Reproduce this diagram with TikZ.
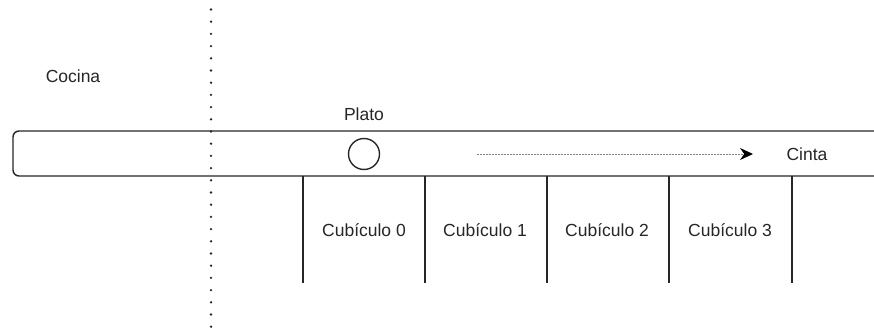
\documentclass[tikz,border=0pt]{standalone}
\usepackage{fontspec}
\setmainfont{Liberation Sans}
\usetikzlibrary{arrows.meta}
\begin{document}
\begin{tikzpicture}[x=1pt,y=-1pt,
  lbl/.style={font=\fontsize{17.5}{20}\selectfont, text=black!85, inner sep=0pt},
  edge/.style={draw=black!85, line width=1.4pt},
  wall/.style={draw=black!85, line width=2.6pt, line cap=round, dash pattern=on 0pt off 12.2pt},
  flow/.style={draw=black!50, line width=0.9pt, dash pattern=on 1.5pt off 1.5pt,
    -{Stealth[length=13pt,width=12pt,color=black,fill=black]}}]
  \useasboundingbox (0,0) rectangle (874,331);

  % conveyor belt, running off the right side
  \begin{scope}
    \clip (0,0) rectangle (874,331);
    \draw[edge, rounded corners=6pt] (890,131) -- (13,131) -- (13,176) -- (890,176);
  \end{scope}

  % kitchen boundary
  \draw[wall] (211,9.5) -- (211,330);

  % cubicle dividers
  \foreach \x/\n in {303/a,425/b,547/c,669/d,792/e}{
    \coordinate (top\n) at (\x,176);
    \coordinate (bot\n) at (\x,283);
    \draw[edge] (top\n) -- (bot\n);
  }

  % labels
  \node[lbl] (cocina) at (73,76) {Cocina};
  \node[lbl] (platolbl) at (364,114) {Plato};
  \node[draw=black!85, line width=1.4pt, circle, minimum size=31pt, inner sep=0pt] (plato) at (364,154) {};
  \node[lbl] (cinta) at (807,154) {Cinta};
  \node[lbl] (c0) at (364,230) {Cubículo 0};
  \node[lbl] (c1) at (485,230) {Cubículo 1};
  \node[lbl] (c2) at (607,230) {Cubículo 2};
  \node[lbl] (c3) at (730,230) {Cubículo 3};

  % direction of the belt
  \coordinate (flowstart) at (477,154);
  \coordinate (flowend) at (753,154);
  \draw[flow] (flowstart) -- (flowend);
\end{tikzpicture}
\end{document}
